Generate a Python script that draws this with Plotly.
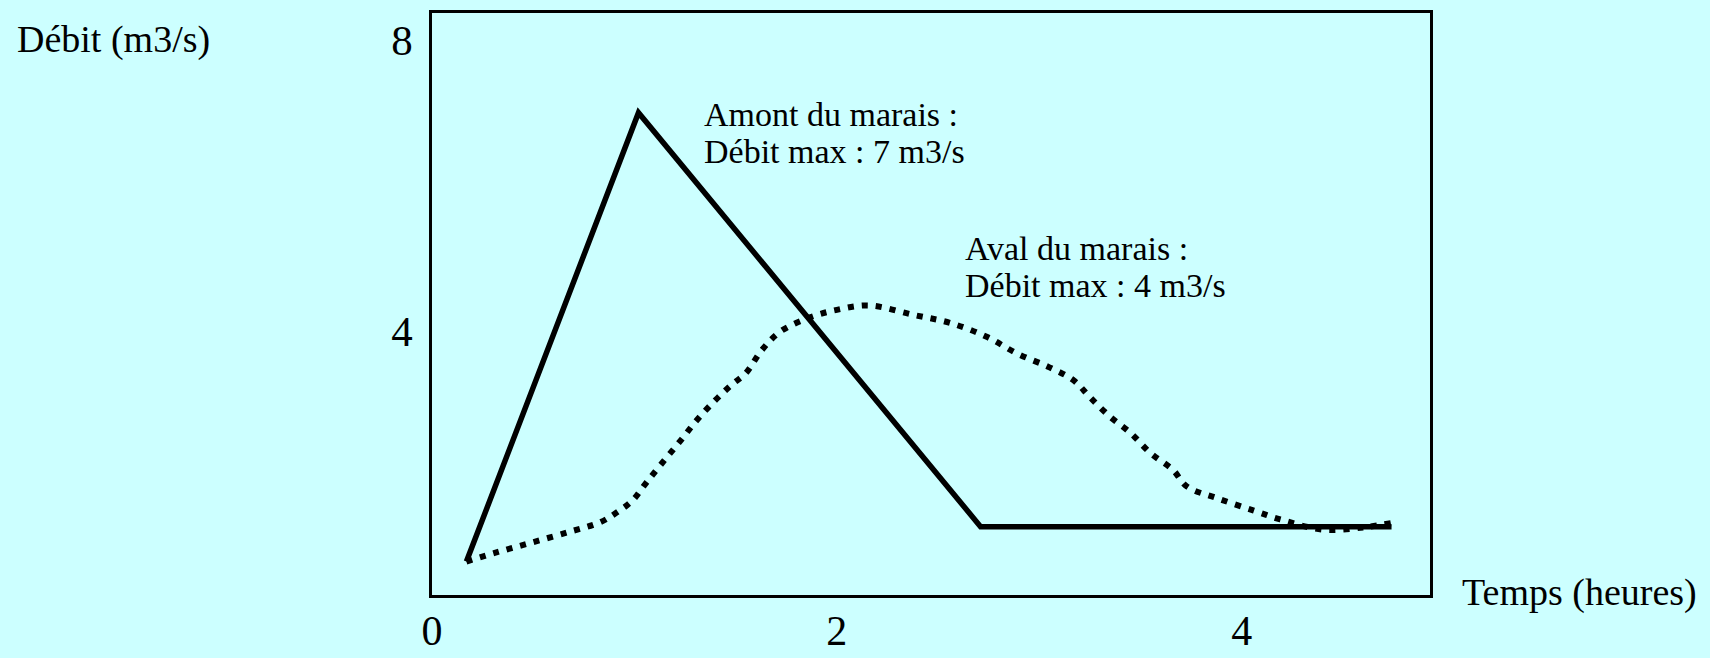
import plotly.graph_objects as go

# Amont du marais (solid line)
amont_x = [0.17, 1.02, 2.71, 4.74]
amont_y = [0.83, 7.0, 1.31, 1.31]

# Aval du marais (dotted line)
aval_x = [0.17, 0.31, 0.49, 0.68, 0.83, 0.91, 0.99, 1.06, 1.15, 1.23, 1.31, 1.40,
          1.48, 1.55, 1.63, 1.72, 1.86, 2.00, 2.16, 2.38, 2.56, 2.74, 2.89, 3.05,
          3.17, 3.25, 3.35, 3.45, 3.55, 3.66, 3.73, 3.88, 4.06, 4.19, 4.40, 4.60, 4.74]
aval_y = [0.83, 0.95, 1.09, 1.24, 1.37, 1.50, 1.67, 1.92, 2.23, 2.50, 2.78, 3.05,
          3.26, 3.42, 3.74, 3.99, 4.18, 4.29, 4.35, 4.22, 4.11, 3.92, 3.69, 3.50,
          3.32, 3.09, 2.82, 2.60, 2.32, 2.09, 1.86, 1.70, 1.53, 1.41, 1.27, 1.30, 1.36]

x_ticks = [0, 2, 4]
y_ticks = [4, 8]

amont_lines = ["Amont du marais :", "Débit max : 7 m3/s"]
aval_lines = ["Aval du marais :", "Débit max : 4 m3/s"]

BG = "#CCFFFF"
FONT = "Liberation Serif, Times New Roman, serif"

fig = go.Figure()
fig.add_trace(go.Scatter(x=amont_x, y=amont_y, mode="lines",
                         line=dict(color="black", width=5.5), name="Amont"))
fig.add_trace(go.Scatter(x=aval_x, y=aval_y, mode="lines", line_shape="spline",
                         line=dict(color="black", width=6, dash="6px,8px"), name="Aval"))

for txt, yy in zip(amont_lines, [6.98, 6.46]):
    fig.add_annotation(x=1.333, y=yy, xref="x", yref="y", xanchor="left", yanchor="middle",
                       text=txt, showarrow=False, align="left",
                       font=dict(family=FONT, size=34, color="black"))
for txt, yy in zip(aval_lines, [5.13, 4.63]):
    fig.add_annotation(x=2.622, y=yy, xref="x", yref="y", xanchor="left", yanchor="middle",
                       text=txt, showarrow=False, align="left",
                       font=dict(family=FONT, size=34, color="black"))

fig.add_annotation(x=-0.418, y=0.954, xref="paper", yref="paper", xanchor="left", yanchor="middle",
                   text="Débit (m3/s)", showarrow=False,
                   font=dict(family=FONT, size=38, color="black"))
fig.add_annotation(x=1.03, y=0.005, xref="paper", yref="paper", xanchor="left", yanchor="middle",
                   text="Temps (heures)", showarrow=False,
                   font=dict(family=FONT, size=38, color="black"))

fig.update_layout(
    template="none",
    width=1710, height=658,
    margin=dict(l=432, r=280, t=13, b=63, pad=0),
    paper_bgcolor=BG, plot_bgcolor=BG,
    showlegend=False,
    font=dict(family=FONT, color="black"),
)
fig.update_xaxes(range=[0, 4.93], tickvals=x_ticks, ticktext=[str(v) for v in x_ticks],
                 showgrid=False, zeroline=False, showline=True, mirror=True, automargin=False,
                 linecolor="black", linewidth=2.5, ticks="",
                 tickfont=dict(family=FONT, size=42), ticklabelstandoff=-3)
fig.update_yaxes(range=[0.371, 8.37], tickvals=y_ticks, ticktext=[str(v) for v in y_ticks],
                 showgrid=False, zeroline=False, showline=True, mirror=True, automargin=False,
                 linecolor="black", linewidth=2.5, ticks="",
                 tickfont=dict(family=FONT, size=43), ticklabelstandoff=8)

fig.write_html("out.html", config={"displayModeBar": False},
               post_script="document.body.style.margin='0';document.body.style.overflow='hidden';")
